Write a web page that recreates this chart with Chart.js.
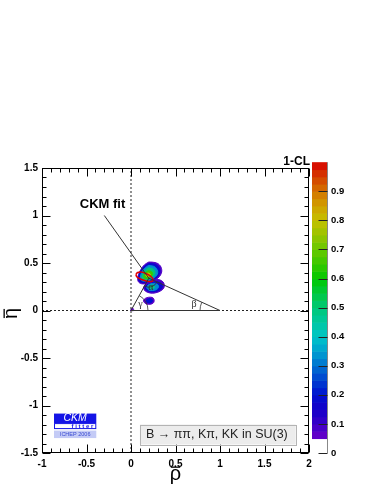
<!DOCTYPE html>
<html>
<head>
<meta charset="utf-8">
<script src="https://cdn.jsdelivr.net/npm/chart.js@4.4.0/dist/chart.umd.min.js"></script>
<style>
  html, body { margin: 0; padding: 0; background: #fff; }
  canvas { display: block; }
</style>
</head>
<body>
<canvas id="ckmChart" width="382" height="494"></canvas>
<script>
// tick labels
const rhoTicks = [-1, -0.5, 0, 0.5, 1, 1.5, 2];
const etaTicks = [-1.5, -1, -0.5, 0, 0.5, 1, 1.5];
const clTicks = [0, 0.1, 0.2, 0.3, 0.4, 0.5, 0.6, 0.7, 0.8, 0.9];

// unitarity triangle apex and start of the "CKM fit" pointer (rho, eta)
const apex = [0.2, 0.34];
const fitLabel = [-0.3, 1.0];

// 1-CL contours, [rho, eta] vertices, outer to inner
const blobA1 = [[0.20,0.51],[0.27,0.505],[0.32,0.48],[0.345,0.43],[0.335,0.38],[0.30,0.34],[0.25,0.31],[0.19,0.285],[0.13,0.28],[0.09,0.295],[0.075,0.33],[0.085,0.38],[0.11,0.43],[0.15,0.48]];
const blobA2 = [[0.20,0.495],[0.26,0.49],[0.305,0.465],[0.325,0.42],[0.315,0.38],[0.28,0.345],[0.23,0.32],[0.17,0.30],[0.12,0.295],[0.09,0.315],[0.09,0.37],[0.115,0.425],[0.155,0.47]];
const blobA3 = [[0.20,0.475],[0.255,0.465],[0.29,0.435],[0.30,0.395],[0.275,0.355],[0.225,0.325],[0.165,0.31],[0.12,0.315],[0.105,0.345],[0.12,0.40],[0.16,0.45]];
const blobA4 = [[0.20,0.45],[0.25,0.435],[0.27,0.40],[0.25,0.36],[0.205,0.335],[0.155,0.32],[0.125,0.335],[0.13,0.38],[0.16,0.425]];
const blobA5 = [[0.195,0.42],[0.235,0.405],[0.24,0.375],[0.21,0.35],[0.165,0.335],[0.145,0.35],[0.155,0.39]];
const blobA6 = [[0.19,0.395],[0.215,0.385],[0.21,0.365],[0.18,0.355],[0.165,0.375]];
const blobB1 = [[0.14,0.235],[0.16,0.205],[0.21,0.185],[0.27,0.185],[0.33,0.205],[0.37,0.24],[0.37,0.285],[0.34,0.315],[0.29,0.325],[0.23,0.31],[0.18,0.285],[0.15,0.26]];
const blobB2 = [[0.16,0.235],[0.18,0.21],[0.22,0.20],[0.27,0.20],[0.32,0.215],[0.35,0.245],[0.345,0.28],[0.31,0.30],[0.26,0.30],[0.21,0.285],[0.17,0.26]];
const blobB3 = [[0.175,0.24],[0.20,0.215],[0.24,0.21],[0.285,0.22],[0.31,0.25],[0.29,0.28],[0.24,0.285],[0.195,0.27]];
const blobB4 = [[0.20,0.245],[0.22,0.228],[0.25,0.23],[0.265,0.25],[0.245,0.268],[0.21,0.262]];
const blobC1 = [[0.14,0.10],[0.16,0.075],[0.20,0.065],[0.245,0.075],[0.26,0.10],[0.25,0.13],[0.22,0.14],[0.18,0.135],[0.15,0.12]];
const blobC2 = [[0.165,0.10],[0.18,0.085],[0.21,0.08],[0.235,0.09],[0.24,0.11],[0.22,0.125],[0.19,0.12]];
const blobD1 = [[-0.005,0.0],[0.03,0.0],[0.02,0.025],[0.005,0.02]];
const fitEllipse = [[0.055,0.38],[0.075,0.40],[0.115,0.405],[0.165,0.39],[0.215,0.365],[0.245,0.335],[0.24,0.31],[0.205,0.305],[0.155,0.315],[0.10,0.335],[0.065,0.355]];

// 1-CL level of each contour
const contours = [
  [0.08, blobB1], [0.18, blobB2], [0.33, blobB3], [0.48, blobB4],
  [0.08, blobA1], [0.18, blobA2], [0.33, blobA3], [0.5, blobA4], [0.65, blobA5], [0.8, blobA6],
  [0.07, blobC1], [0.2, blobC2],
  [0.06, blobD1]
];

// ROOT rainbow palette
const paletteLevels = [0.05,0.1,0.15,0.2,0.25,0.3,0.35,0.4,0.45,0.5,0.55,0.6,0.65,0.7,0.75,0.8,0.85,0.9,0.95,1.0];
const paletteColors = ['#6a00c8','#3c00c8','#1400c8','#0010d0','#0040d0','#0070d0','#00a0d0','#00c4c8','#00c8a0','#00c878',
                       '#00c840','#00c800','#38c800','#68c800','#98c400','#c4c000','#d0a000','#d47400','#d44000','#d80000'];

const fontFam = '"Liberation Sans", Arial, Helvetica, sans-serif';

function hexRgb(h) {
  return [parseInt(h.slice(1, 3), 16), parseInt(h.slice(3, 5), 16), parseInt(h.slice(5, 7), 16)];
}

function paletteColor(v) {
  if (v <= paletteLevels[0]) return paletteColors[0];
  for (let i = 1; i < paletteLevels.length; i++) {
    if (v <= paletteLevels[i]) {
      const t = (v - paletteLevels[i - 1]) / (paletteLevels[i] - paletteLevels[i - 1]);
      const c0 = hexRgb(paletteColors[i - 1]), c1 = hexRgb(paletteColors[i]);
      const c = c0.map((c, k) => Math.round(c + (c1[k] - c) * t));
      return 'rgb(' + c.join(',') + ')';
    }
  }
  return paletteColors[paletteColors.length - 1];
}

function closedXY(pts) {
  return pts.concat([pts[0]]).map(p => ({ x: p[0], y: p[1] }));
}

function lineDs(pts, color, width, dash) {
  return {
    data: pts.map(p => ({ x: p[0], y: p[1] })),
    borderColor: color, borderWidth: width, borderDash: dash || [],
    fill: false, tension: 0, pointRadius: 0
  };
}

// datasets in drawing order, first is at the bottom
const layers = [];
layers.push(lineDs([[0, -1.5], [0, 1.5]], '#222', 1, [2, 2]));
layers.push(lineDs([[-1, 0], [2, 0]], '#222', 1, [2, 2]));
contours.forEach(([lvl, pts]) => {
  const col = paletteColor(lvl);
  layers.push({
    data: closedXY(pts), borderColor: col, backgroundColor: col,
    borderWidth: 1, fill: 'shape', tension: 0.4, pointRadius: 0
  });
});
layers.push(Object.assign(lineDs(fitEllipse.concat([fitEllipse[0]]), '#e00000', 1.6), { tension: 0.4 }));
layers.push(lineDs([[0, 0], [1, 0], apex, [0, 0]], '#333', 1));
layers.push(lineDs([fitLabel, apex], '#333', 1));
layers.forEach((d, i) => { d.order = layers.length - i; });

// letter with a bar over it, centred on (cx, cy), optionally rotated
function barred(ctx, ch, cx, cy, rot) {
  ctx.save();
  ctx.translate(cx, cy);
  ctx.rotate(rot);
  ctx.font = '20px ' + fontFam;
  ctx.fillStyle = '#000';
  ctx.textAlign = 'center';
  ctx.textBaseline = 'alphabetic';
  ctx.fillText(ch, 0, 4);
  const w = ctx.measureText(ch).width;
  ctx.fillRect(-w / 2 + 1, -9.5, w - 2, 1.3);
  ctx.restore();
}

const decor = {
  id: 'decor',
  beforeDraw(chart) {
    const ctx = chart.ctx;
    ctx.save();
    ctx.fillStyle = '#fff';
    ctx.fillRect(0, 0, chart.width, chart.height);
    ctx.restore();
  },
  afterDatasetsDraw(chart) {
    const { ctx, chartArea: a } = chart;
    const { x, y, cl } = chart.scales;
    const px = (r, e) => [x.getPixelForValue(r), y.getPixelForValue(e)];
    const [ox, oy] = px(0, 0), [bx, by] = px(1, 0), [ax, ay] = px(apex[0], apex[1]);
    ctx.save();

    // angle arcs and labels
    ctx.strokeStyle = '#333';
    ctx.lineWidth = 0.8;
    ctx.beginPath(); ctx.arc(ox, oy, 17, Math.atan2(ay - oy, ax - ox), 0); ctx.stroke();
    ctx.beginPath(); ctx.arc(bx, by, 20, -Math.PI, Math.atan2(ay - by, ax - bx)); ctx.stroke();
    ctx.beginPath(); ctx.arc(ax, ay, 9, Math.atan2(by - ay, bx - ax), Math.atan2(oy - ay, ox - ax)); ctx.stroke();
    ctx.fillStyle = '#333';
    ctx.font = '10px "Liberation Serif", serif';
    ctx.textAlign = 'center';
    ctx.textBaseline = 'middle';
    ctx.fillText('γ', ox + 9.5, oy - 6);
    ctx.fillText('β', bx - 26, by - 6);
    ctx.fillText('α', ax + 2, ay + 9);

    // frame with inner ticks
    const L = Math.round(a.left) + 0.5, R = Math.round(a.right) - 0.5;
    const T = Math.round(a.top) + 0.5, B = Math.round(a.bottom) - 0.5;
    ctx.strokeStyle = '#000';
    ctx.lineWidth = 1;
    ctx.strokeRect(L, T, R - L, B - T);
    ctx.beginPath();
    for (let i = 0; i <= 30; i++) {
      const len = i % 5 === 0 ? 8 : 4;
      const xp = Math.round(x.getPixelForValue(-1 + i * 0.1)) + 0.5;
      ctx.moveTo(xp, B); ctx.lineTo(xp, B - len);
      ctx.moveTo(xp, T); ctx.lineTo(xp, T + len);
      const yp = Math.round(y.getPixelForValue(-1.5 + i * 0.1)) + 0.5;
      ctx.moveTo(L, yp); ctx.lineTo(L + len, yp);
      ctx.moveTo(R, yp); ctx.lineTo(R - len, yp);
    }
    ctx.stroke();

    // axis titles
    barred(ctx, '\u03C1', (a.left + a.right) / 2, 476, 0);
    barred(ctx, '\u03B7', 13, (a.top + a.bottom) / 2 + 3, -Math.PI / 2);

    // colour bar
    const cx0 = a.right + 3, cw = 15;
    for (let v = 0.05; v < 0.999; v += 0.025) {
      const y0 = cl.getPixelForValue(v), y1 = cl.getPixelForValue(v + 0.025);
      ctx.fillStyle = paletteColor(v + 0.0125);
      ctx.fillRect(cx0, y1, cw, y0 - y1 + 0.6);
    }
    const cr = Math.round(cx0 + cw) + 0.5;
    ctx.strokeStyle = '#888';
    ctx.beginPath();
    ctx.moveTo(cr, cl.getPixelForValue(1.0));
    ctx.lineTo(cr, cl.getPixelForValue(0));
    ctx.stroke();
    ctx.strokeStyle = '#222';
    ctx.beginPath();
    clTicks.forEach(v => {
      const yp = Math.round(cl.getPixelForValue(v)) + 0.5;
      ctx.moveTo(cr, yp); ctx.lineTo(cr - 9, yp);
    });
    ctx.stroke();

    ctx.fillStyle = '#000';
    ctx.font = 'bold 12px ' + fontFam;
    ctx.textAlign = 'right';
    ctx.textBaseline = 'alphabetic';
    ctx.fillText('1-CL', a.right + 1, a.top - 3);

    // pointer label
    ctx.font = 'bold 13px ' + fontFam;
    ctx.textAlign = 'center';
    ctx.textBaseline = 'middle';
    const [lx, ly] = px(fitLabel[0] - 0.02, fitLabel[1] + 0.12);
    ctx.fillText('CKM fit', lx, ly);

    // legend pave
    const [p0x, p0y] = px(0.1, -1.2), [p1x, p1y] = px(1.85, -1.41);
    ctx.fillStyle = '#ececec';
    ctx.fillRect(p0x, p0y, p1x - p0x, p1y - p0y);
    ctx.strokeStyle = '#b4b4b4';
    ctx.strokeRect(Math.round(p0x) + 0.5, Math.round(p0y) + 0.5, Math.round(p1x - p0x), Math.round(p1y - p0y));
    ctx.fillStyle = '#222';
    ctx.font = '12.5px ' + fontFam;
    ctx.textAlign = 'left';
    ctx.fillText('B \u2192 \u03C0\u03C0, K\u03C0, KK in SU(3)', p0x + 6, (p0y + p1y) / 2 + 0.5);

    // CKMfitter logo
    const [g0x, g0y] = px(-0.865, -1.085), [g1x] = px(-0.39, 0);
    const gw = g1x - g0x;
    ctx.fillStyle = '#1414e6';
    ctx.fillRect(g0x, g0y, gw, 9.5);
    ctx.fillStyle = '#fff';
    ctx.font = 'italic 10.5px ' + fontFam;
    ctx.textAlign = 'center';
    ctx.fillText('CKM', g0x + gw / 2, g0y + 5);
    ctx.strokeStyle = '#1414e6';
    ctx.strokeRect(g0x + 0.5, g0y + 10, gw - 1, 5);
    ctx.fillStyle = '#1414e6';
    ctx.font = 'bold 6px ' + fontFam;
    ctx.textAlign = 'right';
    ctx.fillText('f i t t e r', g0x + gw - 3, g0y + 12.7);
    ctx.fillStyle = '#c4cbf6';
    ctx.fillRect(g0x, g0y + 17, gw, 7.5);
    ctx.fillStyle = '#3a4ad0';
    ctx.font = '5.5px ' + fontFam;
    ctx.textAlign = 'center';
    ctx.fillText('ICHEP 2006', g0x + gw / 2, g0y + 21);

    ctx.restore();
  }
};

const tickFont = { family: fontFam, size: 10, weight: 'bold' };
const plainLabel = v => String(v);

new Chart(document.getElementById('ckmChart'), {
  type: 'line',
  data: { datasets: layers },
  options: {
    responsive: false,
    devicePixelRatio: 1,
    animation: false,
    layout: { padding: { top: 168, left: 0, right: 0, bottom: 0 } },
    plugins: { legend: { display: false }, tooltip: { enabled: false } },
    scales: {
      x: {
        type: 'linear', min: -1, max: 2,
        afterBuildTicks: s => { s.ticks = rhoTicks.map(v => ({ value: v })); },
        afterFit: s => { s.height = 41; },
        grid: { display: false, drawTicks: false },
        border: { display: false },
        ticks: { padding: 5, color: '#000', font: tickFont, maxRotation: 0, autoSkip: false, callback: plainLabel }
      },
      y: {
        type: 'linear', min: -1.5, max: 1.5, position: 'left',
        afterBuildTicks: s => { s.ticks = etaTicks.map(v => ({ value: v })); },
        afterFit: s => { s.width = 42; },
        grid: { display: false, drawTicks: false },
        border: { display: false },
        ticks: { padding: 4, color: '#000', font: tickFont, autoSkip: false, callback: plainLabel }
      },
      cl: {
        type: 'linear', min: 0, max: 0.98, position: 'right',
        afterBuildTicks: s => { s.ticks = clTicks.map(v => ({ value: v })); },
        afterFit: s => { s.width = 73; },
        grid: { display: false, drawTicks: false },
        border: { display: false },
        ticks: { padding: 22, color: '#000', font: { family: fontFam, size: 9.5, weight: 'bold' }, autoSkip: false, callback: plainLabel }
      }
    }
  },
  plugins: [decor]
});
</script>
</body>
</html>
